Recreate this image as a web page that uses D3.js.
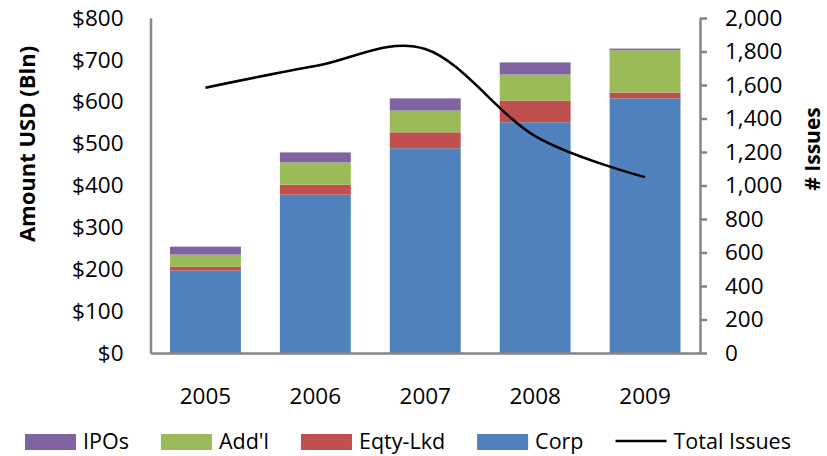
<!DOCTYPE html>
<html>
<head>
<meta charset="utf-8">
<script src="https://cdn.jsdelivr.net/npm/d3@7"></script>
<style>
  body { margin: 0; background: #fff; }
  text { font-family: "Open Sans", sans-serif; }
</style>
</head>
<body>
<svg id="chart" width="827" height="456"></svg>
<script>
// values (USD bln, issues)
var years = ['2005', '2006', '2007', '2008', '2009'];
var corp = [197, 378, 489, 551, 608];
var eqtyLkd = [9, 24, 38, 52, 14];
var addl = [29, 53, 52, 62, 101];
var ipos = [19, 24, 29, 29, 4];
var totalIssues = [1584, 1713, 1815, 1295, 1050];
var amountTicks = [0, 100, 200, 300, 400, 500, 600, 700, 800];
var issueTicks = [0, 200, 400, 600, 800, 1000, 1200, 1400, 1600, 1800, 2000];

var seriesNames = ['Corp', 'Eqty-Lkd', "Add'l", 'IPOs'];
var seriesValues = [corp, eqtyLkd, addl, ipos];
var colors = { 'Corp': '#4F81BD', 'Eqty-Lkd': '#C0504D', "Add'l": '#9BBB59', 'IPOs': '#8064A2' };
var axisGray = '#868686';

var svg = d3.select('#chart');

var x = d3.scaleBand()
  .domain(years)
  .range([150.5, 700])
  .paddingInner(0.355)
  .paddingOuter(0.1775);

var y = d3.scaleLinear().domain([0, 800]).range([353, 18]);
var y2 = d3.scaleLinear().domain([0, 2000]).range([353, 18]);

// build rows for the stack
var rows = years.map(function (yr, i) {
  var r = { year: yr };
  seriesNames.forEach(function (s, j) { r[s] = seriesValues[j][i]; });
  return r;
});
var stacked = d3.stack().keys(seriesNames)(rows);

svg.append('g').selectAll('g')
  .data(stacked)
  .enter().append('g')
    .attr('fill', function (d) { return colors[d.key]; })
  .selectAll('rect')
  .data(function (d) { return d; })
  .enter().append('rect')
    .attr('x', function (d) { return x(d.data.year); })
    .attr('y', function (d) { return y(d[1]); })
    .attr('height', function (d) { return y(d[0]) - y(d[1]); })
    .attr('width', x.bandwidth());

// axes
var leftAxis = svg.append('g')
  .attr('transform', 'translate(150.5,0)')
  .call(d3.axisLeft(y).tickValues(amountTicks).tickSize(0).tickPadding(27)
    .tickFormat(function (d) { return '$' + d; }));

var rightAxis = svg.append('g')
  .attr('transform', 'translate(700,0)')
  .call(d3.axisRight(y2).tickValues(issueTicks).tickSizeInner(7).tickSizeOuter(0).tickPadding(18)
    .tickFormat(d3.format(',')));

var bottomAxis = svg.append('g')
  .attr('transform', 'translate(0,353)')
  .call(d3.axisBottom(x).tickSize(0).tickPadding(35));

[leftAxis, rightAxis, bottomAxis].forEach(function (a) {
  a.selectAll('.domain, line').attr('stroke', axisGray).attr('stroke-width', 2.5);
  a.selectAll('text').attr('fill', '#000').style('font-size', '22.5px');
});

// total issues line
var line = d3.line()
  .x(function (d, i) { return x(years[i]) + x.bandwidth() / 2; })
  .y(function (d) { return y2(d); })
  .curve(d3.curveCardinal.tension(0));

svg.append('path')
  .datum(totalIssues)
  .attr('fill', 'none')
  .attr('stroke', '#000')
  .attr('stroke-width', 2.5)
  .attr('d', line);

// axis titles
svg.append('text')
  .attr('transform', 'translate(35,144) rotate(-90)')
  .attr('text-anchor', 'middle')
  .style('font-size', '22px')
  .style('font-weight', 'bold')
  .text('Amount USD (Bln)');

svg.append('text')
  .attr('transform', 'translate(820,149) rotate(-90)')
  .attr('text-anchor', 'middle')
  .style('font-size', '21px')
  .style('font-weight', 'bold')
  .text('# Issues');

// legend
var legendItems = ['IPOs', "Add'l", 'Eqty-Lkd', 'Corp', 'Total Issues'];
var legend = svg.append('g');
var lx = 25;
legendItems.forEach(function (name) {
  var g = legend.append('g').attr('transform', 'translate(' + lx + ',0)');
  if (name === 'Total Issues') {
    g.append('line')
      .attr('x1', 0).attr('x2', 51)
      .attr('y1', 441).attr('y2', 441)
      .attr('stroke', '#000').attr('stroke-width', 2.5);
  } else {
    g.append('rect')
      .attr('x', 0).attr('y', 434)
      .attr('width', 51).attr('height', 16)
      .attr('fill', colors[name]);
  }
  var t = g.append('text')
    .attr('x', 58).attr('y', 449)
    .style('font-size', '21.5px')
    .text(name);
  lx += 58 + t.node().getComputedTextLength() + 32;
});
</script>
</body>
</html>
